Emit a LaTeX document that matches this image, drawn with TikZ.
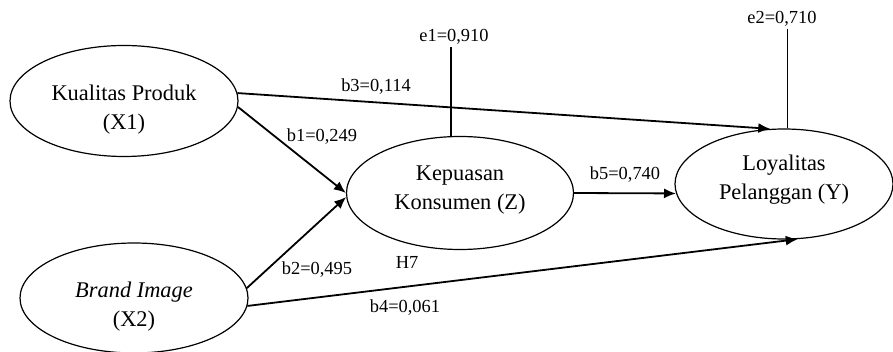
\documentclass[tikz,border=0pt]{standalone}
\usepackage{fontspec}
\setmainfont{Liberation Serif}
\usepackage{tikz}
\usetikzlibrary{
  arrows.meta,      % Latex 箭头样式
  shapes.geometric  % 椭圆节点
}
\tikzset{
  latent var/.style={
    ellipse,
    draw,
    line width=0.6pt,
    inner sep=0pt
  },
  var text/.style={
    align=center,
    inner sep=0pt,
    font=\fontsize{11.2}{14.5}\selectfont
  },
  path arrow/.style={
    -{Latex[length=6pt,width=5pt]},
    line width=0.9pt
  },
  coef label/.style={
    font=\fontsize{9.2}{11}\selectfont,
    inner sep=1pt
  },
  error line/.style={
    line width=0.6pt
  }
}

\begin{document}
\begin{tikzpicture}[x=0.5pt, y=-0.5pt]
  % 画布大小 (按像素坐标)
  \useasboundingbox (0,0) rectangle (893,352);

  % ==== 1. 四个潜变量 ====
  \node[latent var, minimum width=114pt, minimum height=55.5pt,
    label={[var text, yshift=-4.25pt]center:{Kualitas Produk\\(X1)}}] (x1) at (124,101) {};
  \node[latent var, minimum width=114pt, minimum height=55pt,
    label={[var text, yshift=-4.5pt]center:{\textit{Brand Image}\\(X2)}}] (x2) at (134,298) {};
  \node[latent var, minimum width=113.5pt, minimum height=56.5pt,
    label={[var text, yshift=1.5pt]center:{Kepuasan\\Konsumen (Z)}}] (z) at (460,193) {};
  \node[latent var, minimum width=109pt, minimum height=55pt,
    label={[var text, yshift=2pt]center:{Loyalitas\\Pelanggan (Y)}}] (y) at (784,184) {};

  % ==== 2. 路径箭头 ====
  \draw[path arrow] (x1.4) -- (y.104);
  \draw[path arrow] (x1.-3) -- (z.180);
  \draw[path arrow] (x2.5) -- (z.182);
  \draw[path arrow] (x2.-4) -- (y.-76);
  \draw[path arrow] (z.east) -- (y.185);

  % 路径系数
  \node[coef label] (b3) at (376,87) {b3=0,114};
  \node[coef label] (b1) at (322,137) {b1=0,249};
  \node[coef label] (b2) at (317,270) {b2=0,495};
  \node[coef label] (b4) at (405,308) {b4=0,061};
  \node[coef label] (b5) at (625,175) {b5=0,740};
  \node[coef label] (h7) at (407,262) {H7};

  % ==== 3. 误差项 ====
  \node[coef label] (e1) at (454,37) {e1=0,910};
  \node[coef label] (e2) at (782,19) {e2=0,710};
  \draw[error line] (z.99) -- (z.99 |- e1.south);
  \draw[error line] (y.86) -- (y.86 |- e2.south);

\end{tikzpicture}
\end{document}
